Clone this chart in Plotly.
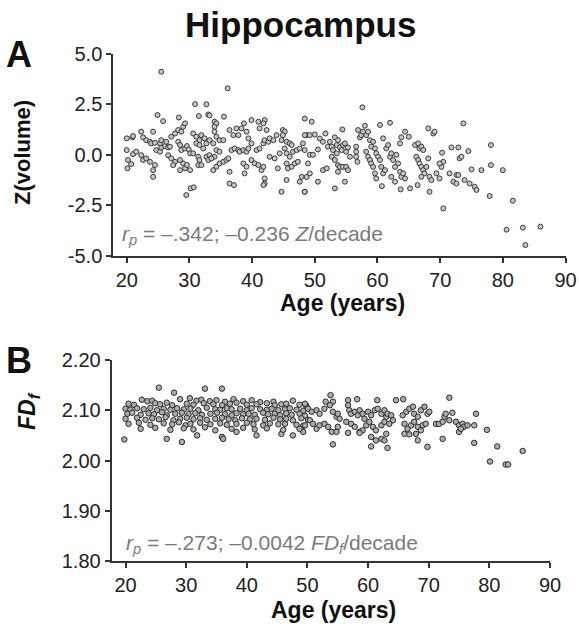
import plotly.graph_objects as go

# ---------------- Panel A data: age (years) vs Z(volume) ----------------
age_a = [25.5, 36.1, 30.9, 32.7, 24.9, 25.8, 28.3, 31.5, 33.0, 33.2, 34.0, 34.3, 35.5,
         20.0, 20.9, 21.0, 22.3, 22.6, 24.2, 20.0, 20.2, 20.7, 20.1, 21.0, 21.5, 22.3,
         22.6, 23.1, 23.7, 24.2, 24.2, 24.5, 24.7, 25.3, 25.5, 26.1, 23.1, 23.7, 23.9,
         24.5, 25.3, 25.5, 26.3, 26.6, 26.9, 26.6, 27.1, 27.7, 27.4, 27.1, 27.7, 28.2,
         28.7, 29.0, 29.3, 28.2, 28.5, 28.7, 29.3, 29.6, 29.9, 30.1, 28.5, 29.0, 29.3,
         29.6, 30.1, 28.5, 29.5, 30.2, 30.7, 30.6, 31.1, 31.6, 31.9, 32.4, 32.7, 33.2,
         33.8, 31.1, 31.6, 32.2, 30.6, 31.4, 31.6, 32.7, 33.2, 34.0, 34.3, 34.8, 31.4,
         31.9, 33.0, 33.5, 33.8, 34.3, 34.8, 35.4, 35.9, 36.2, 34.0, 34.3, 34.8, 35.4,
         34.0, 36.4, 36.4, 37.1, 36.4, 37.0, 37.5, 37.8, 38.3, 38.7, 39.1, 39.4, 36.7,
         37.2, 37.8, 38.0, 38.6, 39.1, 39.4, 39.9, 38.6, 39.1, 39.9, 40.4, 41.0, 38.8,
         39.9, 41.0, 41.2, 42.0, 42.3, 41.8, 40.7, 41.2, 41.8, 42.0, 42.6, 42.8, 43.4,
         41.5, 41.8, 42.0, 42.0, 41.8, 42.8, 43.6, 44.4, 44.1, 44.7, 44.9, 45.2, 44.9,
         44.7, 43.9, 45.5, 46.0, 46.3, 45.2, 45.5, 46.0, 46.5, 47.1, 45.5, 45.7, 46.3,
         46.8, 47.3, 45.5, 47.9, 47.6, 48.4, 47.6, 48.1, 48.7, 48.4,
         49.5, 48.4, 49.2, 50.0, 50.8, 51.7, 48.4, 49.2, 49.7, 50.5, 51.3, 52.1, 48.9,
         49.2, 48.7, 48.4, 50.5, 51.3, 51.9, 52.4, 52.7, 52.9, 53.2, 53.5, 53.7, 54.0,
         54.3, 54.5, 54.8, 55.0, 55.3, 55.6, 52.7, 53.2, 53.5, 53.7, 54.0, 54.5, 55.0,
         55.3, 53.2, 54.4, 54.8, 53.7, 56.6, 56.6, 56.6, 56.8, 56.9, 57.2, 57.4, 57.7,
         58.0, 58.2, 58.5, 58.8, 57.6, 58.2, 58.5, 58.8, 59.0, 59.3, 59.6, 59.8, 59.0,
         59.3, 59.6, 59.8, 60.1, 60.4, 60.6, 60.7, 60.9, 61.2, 60.4, 62.0, 60.9, 61.4,
         61.7, 62.0, 62.2, 62.5, 62.8, 63.0, 63.3, 63.6, 63.8, 64.1, 64.4, 62.2, 62.8,
         63.7, 65.2, 66.4, 64.4, 65.0, 63.8, 63.6, 66.0, 66.5, 66.7, 67.0, 67.3, 66.2,
         66.5, 66.7, 67.0, 67.3, 67.5, 67.8, 67.0, 68.1, 68.9, 69.1, 68.1, 68.3, 68.6,
         68.3, 69.4, 69.9, 70.2, 70.5, 69.9, 70.3, 70.5, 71.8, 72.9, 74.5, 73.7, 73.1,
         73.4, 75.0, 76.6, 78.1, 78.1, 80.0, 71.5, 72.1, 72.6, 72.6, 72.9, 73.9, 74.7,
         75.5, 75.8, 77.9, 81.6, 80.6, 83.2, 86.0, 83.6]
z_a = [4.10, 3.28, 2.50, 2.49, 1.96, 1.66, 1.84, 1.91, 1.99, 1.94, 1.63, 1.55, 1.88,
       0.81, 0.86, 0.92, 1.14, 0.86, 1.14, 0.23, -0.26, -0.46, -0.67, 0.03, 0.15, -0.02,
       -0.26, -0.18, -0.35, -0.76, -1.09, -0.51, 0.23, 0.15, 0.36, 0.43, 0.72, 0.64, 0.56,
       0.59, 0.56, 0.72, 0.64, 0.36, 0.40, -0.02, -0.18, -0.35, -0.51, 0.89, 1.05, 1.22,
       1.14, 1.38, 1.55, 0.64, 0.48, 0.23, 0.31, 0.43, 0.26, 0.07, -0.26, -0.43, -0.67,
       -0.51, -0.76, -0.76, -1.99, -1.66, -1.61, 1.05, 0.89, 0.72, 0.97, 0.81, 0.56, 0.72,
       0.56, 0.56, 0.48, 0.31, 0.07, -0.10, -0.26, -0.10, -0.02, -0.10, 0.23, 0.15, -0.51,
       -0.51, -0.26, -0.18, -0.76, -0.59, -0.43, -0.35, -0.26, -0.18, 1.14, 0.89, 0.72, 0.72,
       1.38, -0.84, -1.42, -1.50, 1.22, 0.97, 1.30, 0.97, 1.30, 1.55, 1.14, 0.81, 0.23,
       0.31, 0.23, 0.15, 0.23, 0.15, 0.31, 0.56, -0.43, -0.59, -0.26, -0.43, -0.51, -0.92,
       1.71, 1.63, 1.30, 1.71, 1.22, 1.55, 0.23, 0.31, 0.56, 0.72, 0.64, 0.81, 0.72,
       -0.76, -0.59, -1.17, -1.42, -1.50, -0.10, -0.18, 0.07, -0.67, -1.83, 1.22, 1.14, 0.97,
       0.72, 0.97, 0.64, 0.56, 0.48, 0.31, 0.07, -0.10, 0.15, 0.23, -0.43, -0.67, -0.59,
       -0.43, -0.35, -1.25, -1.09, -1.33, -1.83, 0.31, 0.56, 0.97, 1.79,
       1.63, 0.97, 0.97, 1.00, 0.80, 1.05, 0.23, 0.00, 0.00, 0.26, 0.64, 0.40, -0.43,
       -0.92, -1.10, -1.83, -1.33, -0.76, -0.67, 0.64, 0.40, 0.23, 0.86, 0.48, 0.72, 0.36,
       0.23, 0.48, 0.56, 0.15, 0.36, -0.10, -0.10, -0.26, 0.07, -0.51, -0.60, -0.60, -0.60,
       -0.76, -1.66, 1.25, -1.33, -0.84, 0.40, 0.15, -0.10, -0.35, 1.22, 0.86, 0.97, 1.14,
       1.43, 0.97, 1.14, 0.72, 2.34, 0.15, -0.10, -0.26, -0.43, -0.60, -0.92, -1.17, 0.40,
       0.64, 0.31, 0.07, -0.10, -0.26, -0.60, -1.55, -0.92, -0.76, 1.47, 1.58, 0.81, 0.31,
       0.48, -0.10, 0.07, -0.26, -0.60, 0.00, -0.43, -0.84, -1.09, -0.92, -1.17, -1.09, -1.33,
       -1.71, -1.66, -1.50, 1.14, 0.89, 0.86, 0.56, 0.48, 0.56, 0.31, 0.40, 0.23, -0.10,
       -0.26, -0.43, -0.60, -0.76, -0.92, -0.60, -1.09, 1.30, 1.05, 1.14, -0.18, -1.09, -1.25,
       -1.83, -0.92, -1.17, -0.60, -0.35, -0.43, 0.10, -2.65, 0.36, 0.36, 0.18, 1.55, -0.18,
       -0.10, -0.72, -0.76, -0.51, 0.48, -0.76, -0.92, -1.33, -1.00, -1.42, -1.00, -1.25, -1.42,
       -1.58, -1.74, -2.04, -2.27, -3.70, -3.60, -3.55, -4.46]

# ---------------- Panel B data: age (years) vs FD_f ----------------
age_b = [19.8, 25.5, 28.0, 33.1, 35.9, 29.3, 26.8, 35.9, 36.1, 31.8, 38.3, 41.6, 45.7, 47.6, 49.3,
         22.7, 23.6, 24.4, 29.0, 30.6, 31.7, 32.5, 33.9, 35.0, 36.4, 37.8, 39.4, 40.8, 42.2, 44.4, 47.6,
         20.5, 21.4, 24.9, 25.7, 26.8, 27.7, 30.1, 31.2, 32.9, 34.5, 35.9, 37.2, 38.3, 40.0, 41.6, 43.3,
         44.6, 45.7, 46.5, 48.7, 49.8,
         20.0, 20.8, 21.9, 23.0, 24.1, 25.2, 26.3, 27.4, 28.5, 29.6, 30.7, 32.0, 33.4, 34.8, 35.6, 36.7,
         37.5, 38.9, 40.0, 40.8, 42.2, 43.3, 44.1, 45.2, 46.3, 47.1, 48.2, 49.3,
         20.3, 21.1, 22.5, 23.8, 24.7, 26.0, 26.8, 28.2, 29.3, 30.4, 31.5, 32.6, 34.0, 35.1, 36.4, 37.5,
         38.3, 39.4, 40.3, 41.3, 42.7, 43.5, 44.6, 45.5, 46.5, 47.4, 48.7, 49.6,
         20.0, 21.9, 23.3, 24.4, 25.5, 26.6, 27.9, 29.0, 30.1, 31.2, 32.3, 33.4, 34.8, 35.9, 37.0, 38.1,
         39.2, 40.5, 41.6, 43.0, 44.4, 45.5, 46.5, 47.6, 49.0, 50.1,
         20.5, 22.2, 24.1, 26.3, 27.7, 28.8, 29.9, 30.7, 32.3, 34.0, 35.6, 36.7, 38.3, 40.0, 41.1, 42.7,
         43.8, 45.2, 46.3, 48.2, 49.3,
         22.5, 24.9, 27.4, 29.6, 31.2, 33.1, 34.8, 37.5, 39.4, 41.3, 43.3, 46.0, 48.7,
         53.8, 53.0, 54.2, 56.7, 58.2, 61.5, 64.6, 65.8, 73.4,
         49.6, 50.1, 50.7, 51.5, 52.0, 52.8, 53.7, 54.2, 54.8, 55.0,
         49.6, 50.4, 50.9, 51.5, 52.0, 52.8, 53.4, 54.0, 54.8, 55.0, 55.3, 56.4,
         56.7, 56.9, 57.2, 57.8, 58.3, 58.6, 59.1, 59.4, 60.0, 60.5, 61.1, 61.6, 62.2, 62.7, 63.0, 63.2,
         63.8, 64.1,
         57.2, 57.8, 58.6, 59.1, 59.7, 60.2, 60.8, 61.3, 62.2, 62.7, 63.5,
         60.5, 61.3, 62.2, 62.7, 63.0, 58.6, 56.7, 63.2, 60.5, 54.2,
         65.7, 66.3, 66.8, 67.4, 67.6, 68.2, 68.7, 69.3, 69.8, 70.1,
         66.0, 66.5, 67.1, 67.6, 68.2, 68.7, 69.0, 69.5,
         66.0, 66.8, 67.9, 68.2, 69.8,
         71.2, 71.7, 72.3, 72.6, 72.8, 73.4, 73.9, 74.5, 75.0, 75.6, 75.8, 76.4,
         72.3, 75.0, 75.3, 77.5, 77.8, 77.5, 79.6, 81.3,
         80.1, 82.7, 83.1, 85.5]
fd_b = [2.042, 2.145, 2.135, 2.143, 2.143, 2.037, 2.043, 2.047, 2.043, 2.050, 2.057, 2.050, 2.053, 2.050, 2.057,
        2.121, 2.118, 2.119, 2.122, 2.124, 2.119, 2.121, 2.118, 2.120, 2.117, 2.122, 2.118, 2.120, 2.116, 2.117, 2.119,
        2.113, 2.111, 2.114, 2.112, 2.115, 2.110, 2.113, 2.111, 2.114, 2.112, 2.110, 2.113, 2.115, 2.111, 2.112, 2.114,
        2.110, 2.112, 2.113, 2.111, 2.109,
        2.103, 2.101, 2.104, 2.102, 2.105, 2.100, 2.103, 2.101, 2.104, 2.102, 2.103, 2.100, 2.105, 2.102, 2.101, 2.104,
        2.102, 2.103, 2.100, 2.104, 2.102, 2.101, 2.103, 2.100, 2.102, 2.104, 2.101, 2.099,
        2.093, 2.095, 2.091, 2.094, 2.092, 2.096, 2.090, 2.093, 2.095, 2.092, 2.094, 2.091, 2.093, 2.095, 2.092, 2.090,
        2.094, 2.092, 2.093, 2.091, 2.095, 2.092, 2.093, 2.090, 2.094, 2.091, 2.093, 2.089,
        2.083, 2.085, 2.081, 2.084, 2.082, 2.086, 2.080, 2.083, 2.085, 2.082, 2.084, 2.081, 2.083, 2.085, 2.082, 2.080,
        2.084, 2.082, 2.083, 2.081, 2.085, 2.082, 2.083, 2.080, 2.084, 2.081,
        2.073, 2.075, 2.071, 2.074, 2.072, 2.076, 2.070, 2.073, 2.075, 2.072, 2.074, 2.071, 2.073, 2.075, 2.072, 2.070,
        2.074, 2.072, 2.073, 2.071, 2.069,
        2.063, 2.065, 2.061, 2.064, 2.062, 2.066, 2.060, 2.063, 2.065, 2.062, 2.064, 2.061, 2.063,
        2.130, 2.117, 2.117, 2.120, 2.122, 2.120, 2.120, 2.122, 2.125,
        2.113, 2.103, 2.097, 2.100, 2.093, 2.103, 2.110, 2.097, 2.087, 2.093,
        2.070, 2.080, 2.073, 2.063, 2.070, 2.073, 2.067, 2.057, 2.057, 2.067, 2.083, 2.077,
        2.110, 2.100, 2.093, 2.097, 2.090, 2.100, 2.093, 2.083, 2.097, 2.090, 2.100, 2.103, 2.093, 2.100, 2.087, 2.093,
        2.090, 2.080,
        2.073, 2.067, 2.057, 2.060, 2.070, 2.077, 2.067, 2.060, 2.070, 2.077, 2.073,
        2.047, 2.040, 2.043, 2.040, 2.053, 2.055, 2.055, 2.025, 2.028, 2.032,
        2.090, 2.097, 2.103, 2.107, 2.093, 2.087, 2.100, 2.107, 2.093, 2.097,
        2.073, 2.063, 2.070, 2.077, 2.067, 2.060, 2.070, 2.073,
        2.053, 2.052, 2.053, 2.040, 2.027,
        2.073, 2.073, 2.077, 2.087, 2.093, 2.080, 2.095, 2.077, 2.070, 2.073, 2.067, 2.070,
        2.043, 2.057, 2.063, 2.070, 2.093, 2.035, 2.061, 2.028,
        1.998, 1.992, 1.992, 2.019]

x_ticks = [20, 30, 40, 50, 60, 70, 80, 90]
ya_ticks = [-5, -2.5, 0, 2.5, 5]
ya_text = ["-5.0", "-2.5", "0.0", "2.5", "5.0"]
yb_ticks = [1.8, 1.9, 2.0, 2.1, 2.2]
yb_text = ["1.80", "1.90", "2.00", "2.10", "2.20"]

W, H = 579, 634
def fx(p):
    return p / W
def fy(p):
    return 1 - p / H

FONT = "Liberation Sans, Arial, Helvetica, sans-serif"

fig = go.Figure()
fig.add_trace(go.Scatter(x=age_a, y=z_a, mode="markers", xaxis="x", yaxis="y",
                         marker=dict(size=5, color="#c4c4c4", line=dict(color="#2b2b2b", width=0.9)),
                         hoverinfo="skip"))
fig.add_trace(go.Scatter(x=age_b, y=fd_b, mode="markers", xaxis="x2", yaxis="y2",
                         marker=dict(size=5.5, color="#adadad", line=dict(color="#2b2b2b", width=1)),
                         hoverinfo="skip"))

ax = dict(showline=True, linecolor="#333333", linewidth=2, ticks="outside", ticklen=5,
          tickwidth=1.5, tickcolor="#333333", showgrid=False, zeroline=False, automargin=False,
          tickfont=dict(family=FONT, size=20, color="#222222"))

fig.update_layout(
    template="none",
    width=W, height=H, margin=dict(l=0, r=0, t=0, b=0, pad=0),
    paper_bgcolor="white", plot_bgcolor="white", showlegend=False,
    xaxis=dict(domain=[fx(113.3), fx(565.5)], range=[17.85, 90], tickvals=x_ticks,
               anchor="y", **ax),
    yaxis=dict(domain=[fy(256), fy(53.5)], range=[-5, 5], tickvals=ya_ticks,
               ticktext=ya_text, anchor="x", **ax),
    xaxis2=dict(domain=[fx(111.7), fx(550)], range=[17.72, 90], tickvals=x_ticks,
                anchor="y2", **ax),
    yaxis2=dict(domain=[fy(561), fy(360)], range=[1.8, 2.2], tickvals=yb_ticks,
                ticktext=yb_text, anchor="x2", **ax),
)

def ann(text, x, y, size, color="#111111", xanchor="center", yanchor="middle", angle=0):
    fig.add_annotation(text=text, x=fx(x), y=fy(y), xref="paper", yref="paper",
                       xanchor=xanchor, yanchor=yanchor, showarrow=False, textangle=angle,
                       font=dict(family=FONT, size=size, color=color))

ann("<b>Hippocampus</b>", 300, 25, 35)
ann("<b>A</b>", 19, 54, 36)
ann("<b>B</b>", 19, 360, 36)
ann("<b>Z(volume)</b>", 22, 153, 22, angle=-90)
ann("<b><i>FD<sub>f</sub></i></b>", 28, 411, 23, angle=-90)
ann("<b>Age (years)</b>", 342, 303, 23)
ann("<b>Age (years)</b>", 333, 610, 23)
ann("<i>r<sub>p</sub></i> = –.342; –0.236 <i>Z</i>/decade", 120, 235, 21,
    color="#7a7a7a", xanchor="left")
ann("<i>r<sub>p</sub></i> = –.273; –0.0042 <i>FD<sub>f</sub></i>/decade", 124, 544, 21,
    color="#7a7a7a", xanchor="left")

fig.write_html("out.html", config={"displayModeBar": False},
               post_script="document.body.style.margin='0';document.body.style.overflow='hidden';")
